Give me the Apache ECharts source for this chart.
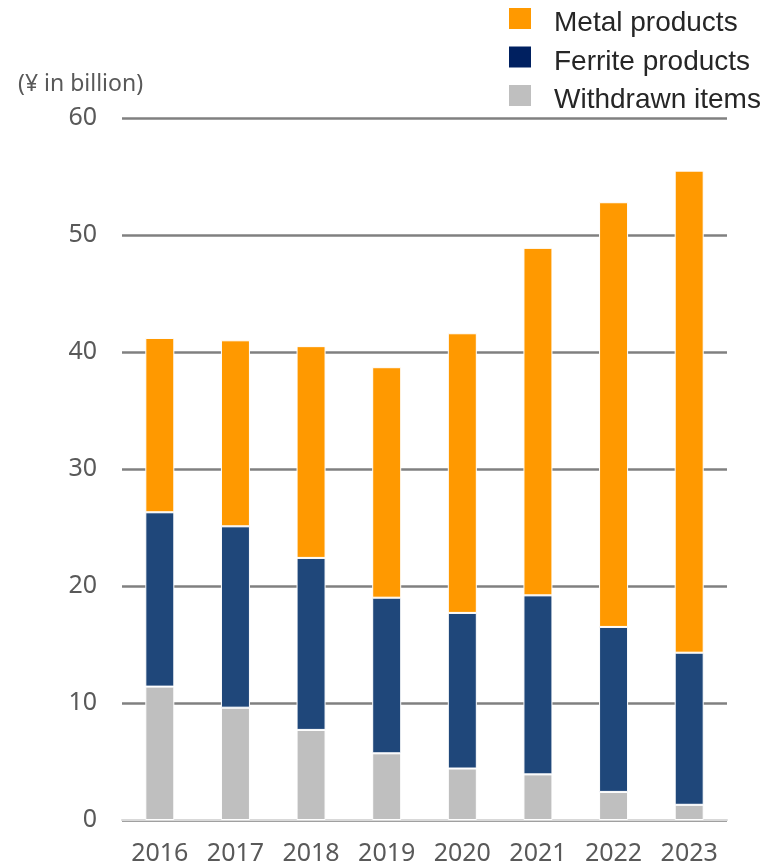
<!DOCTYPE html>
<html>
<head>
<meta charset="utf-8">
<script src="https://cdn.jsdelivr.net/npm/echarts@6/dist/echarts.min.js"></script>
<style>
  html, body { margin: 0; padding: 0; background: #fff; }
  #chart { width: 773px; height: 866px; }
</style>
</head>
<body>
<div id="chart"></div>
<script>
const years = ['2016', '2017', '2018', '2019', '2020', '2021', '2022', '2023']
// stacked segment values (¥ in billion)
const withdrawn = [11.4, 9.6, 7.7, 5.7, 4.4, 3.9, 2.4, 1.3]
const ferrite = [14.9, 15.5, 14.7, 13.3, 13.3, 15.3, 14.1, 13.0]
const metal = [14.9, 15.9, 18.1, 19.7, 23.9, 29.7, 36.3, 41.2]

const chart = echarts.init(document.getElementById('chart'))

const labelFont = 'Noto Sans'

function bar(name, data, color) {
    return {
        name: name,
        type: 'bar',
        stack: 'total',
        data: data,
        barWidth: 29,
        itemStyle: {color: color, borderColor: '#fff', borderWidth: 1},
        emphasis: {disabled: true}
    }
}

// square sits in the top part of the icon box so the text ends up a bit lower
const legendIcon = 'path://M0,0H24V23H0Z M0,33L0.01,33'

chart.setOption({
    animation: false,
    legend: {
        orient: 'vertical',
        left: 507,
        top: 6,
        padding: 0,
        icon: legendIcon,
        itemWidth: 24,
        itemHeight: 33,
        itemGap: 3.5,
        textStyle: {fontFamily: 'Liberation Sans', fontSize: 28, lineHeight: 30, color: '#262626', padding: [0, 0, 0, 17]},
        data: [
            {name: 'Metal products', itemStyle: {color: '#FF9900'}},
            {name: 'Ferrite products', itemStyle: {color: '#002060'}},
            {name: 'Withdrawn items', itemStyle: {color: '#BFBFBF'}}
        ]
    },
    grid: {left: 122, right: 46, top: 118, bottom: 44},
    xAxis: {
        type: 'category',
        data: years,
        axisLine: {lineStyle: {color: '#d9d9d9', width: 2}},
        axisTick: {show: false},
        axisLabel: {fontFamily: labelFont, fontSize: 25, color: '#595959', margin: 21}
    },
    yAxis: {
        type: 'value',
        min: 0,
        max: 60,
        interval: 10,
        name: '(¥ in billion)',
        nameLocation: 'end',
        nameGap: 22,
        nameTextStyle: {fontFamily: labelFont, fontSize: 23, color: '#595959', align: 'left', padding: [0, 0, 0, -104]},
        axisLine: {show: false},
        axisTick: {show: false},
        axisLabel: {fontFamily: labelFont, fontSize: 25, color: '#595959', margin: 25},
        splitLine: {lineStyle: {color: '#808080', width: 2.5}}
    },
    series: [
        bar('Withdrawn items', withdrawn, '#BFBFBF'),
        bar('Ferrite products', ferrite, '#1F477A'),
        bar('Metal products', metal, '#FF9900')
    ]
})
</script>
</body>
</html>
